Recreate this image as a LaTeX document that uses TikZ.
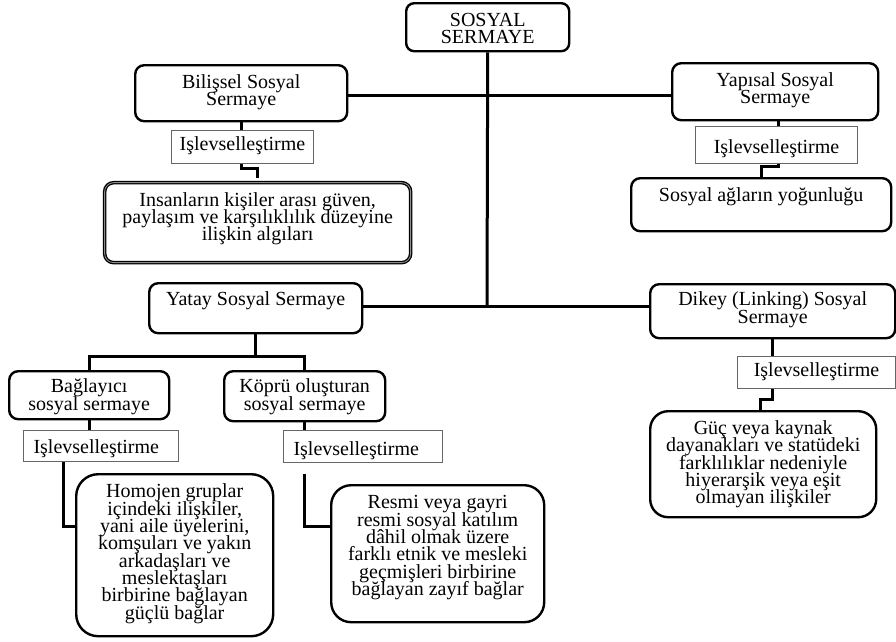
\documentclass[tikz,border=0pt]{standalone}
\usepackage{fontspec}
\setmainfont{Liberation Serif}
\newcommand\bx[5][\centering]{\parbox[c][#3][t]{#2}{\fontsize{20}{17.3}\selectfont\lineskiplimit=-\maxdimen\vspace*{\dimexpr#4pt-14pt\relax}#1\rule{0pt}{14pt}#5\par}}
\begin{document}
\begin{tikzpicture}[x=1pt,y=-1pt,
  rbox/.style={draw, line width=2.4pt, rounded corners=9pt, inner sep=0pt, anchor=north west, fill=white},
  ibox/.style={draw=black!60, line width=1pt, inner sep=0pt, anchor=north west, fill=white},
  conn/.style={line width=3pt, line join=miter}]
\useasboundingbox (0,0) rectangle (896,641);
% nodes
\node[rbox, rounded corners=8pt] (root) at (405,2) {\bx{163pt}{48pt}{23}{SOSYAL\\SERMAYE}};
\node[rbox] (bil) at (134,64) {\bx{212pt}{56pt}{23}{Bilişsel Sosyal\\Sermaye}};
\node[rbox] (yap) at (671,62) {\bx{206pt}{57pt}{23}{Yapısal Sosyal\\Sermaye}};
\node[ibox] (isl1) at (171,130) {\bx{142pt}{33pt}{20}{Işlevselleştirme}};
\node[ibox] (isl2) at (695,126) {\bx{162pt}{37pt}{27}{Işlevselleştirme}};
\node[rbox, line width=1.3pt, double=black!45, double distance=0.9pt] (ins) at (104,182) {\bx{306pt}{80pt}{23.5}{Insanların kişiler arası güven,\\paylaşım ve karşılıklılık düzeyine\\ilişkin algıları}};
\node[rbox] (sag) at (630,177) {\bx{260pt}{53pt}{23}{Sosyal ağların yoğunluğu}};
\node[rbox] (yat) at (148,282) {\bx{213pt}{50pt}{22}{Yatay Sosyal Sermaye}};
\node[rbox] (dik) at (649,283) {\bx{245pt}{54pt}{21.5}{Dikey (Linking) Sosyal\\Sermaye}};
\node[rbox] (bag) at (8,370) {\bx{160pt}{48pt}{21.7}{Bağlayıcı\\sosyal sermaye}};
\node[rbox] (kop) at (223,370) {\bx{161pt}{50pt}{21.5}{Köprü oluşturan\\sosyal sermaye}};
\node[ibox] (isl3) at (23,430) {\bx[\raggedright\hspace*{10pt}]{155pt}{31pt}{23}{Işlevselleştirme}};
\node[ibox] (isl4) at (283,430) {\bx[\raggedright\hspace*{10pt}]{159pt}{32pt}{25}{Işlevselleştirme}};
\node[rbox, rounded corners=22pt] (hom) at (75,473) {\bx{197pt}{162pt}{23.7}{Homojen gruplar\\içindeki ilişkiler,\\yani aile üyelerini,\\komşuları ve yakın\\arkadaşları ve\\meslektaşları\\birbirine bağlayan\\güçlü bağlar}};
\node[rbox, rounded corners=20pt] (res) at (330,484) {\bx{213pt}{137pt}{23.7}{Resmi veya gayri\\resmi sosyal katılım\\dâhil olmak üzere\\farklı etnik ve mesleki\\geçmişleri birbirine\\bağlayan zayıf bağlar}};
\node[ibox] (isl5) at (737,356) {\bx{158pt}{32pt}{19.7}{Işlevselleştirme}};
\node[rbox, rounded corners=18pt] (guc) at (649,410) {\bx{226pt}{106pt}{23.3}{Güç veya kaynak\\dayanakları ve statüdeki\\farklılıklar nedeniyle\\hiyerarşik veya eşit\\olmayan ilişkiler}};
% junctions
\coordinate (j1) at (487,95);
\coordinate (j2) at (487,306);
\coordinate (jy) at (255,356);
% connectors
\draw[conn] (root.south) -- (j2);
\draw[conn] (bil.east |- j1) -- (yap.west |- j1);
\draw[conn] (yat.east |- j2) -- (dik.west |- j2);
\draw[conn] (bil.south) -- (bil.south |- isl1.north);
\draw[conn, shorten >=4pt] (bil.south |- isl1.south) -- ++(0,4) -| (ins.north);
\draw[conn] ([xshift=3pt]yap.south) -- ([xshift=3pt]yap.south |- isl2.north);
\draw[conn] ([xshift=3pt]yap.south |- isl2.south) -- ++(0,2) -| (sag.north);
\draw[conn] (yat.south) -- (yat.south |- jy);
\draw[conn] (bag.north) -- (bag.north |- jy) -- (kop.north |- jy) -- (kop.north);
\draw[conn] (bag.south) -- (bag.south |- isl3.north);
\draw[conn] ([xshift=40pt]isl3.south west) |- ([yshift=-53pt]hom.north west);
\draw[conn] (kop.south) -- (kop.south |- isl4.north);
\draw[conn, shorten <=11pt] (kop.south |- isl4.south) |- ([yshift=-42pt]res.north west);
\draw[conn] (dik.south) -- (dik.south |- isl5.north);
\draw[conn] (dik.south |- isl5.south) -- ++(0,10) -| ([xshift=-3pt]guc.north);
\end{tikzpicture}
\end{document}
